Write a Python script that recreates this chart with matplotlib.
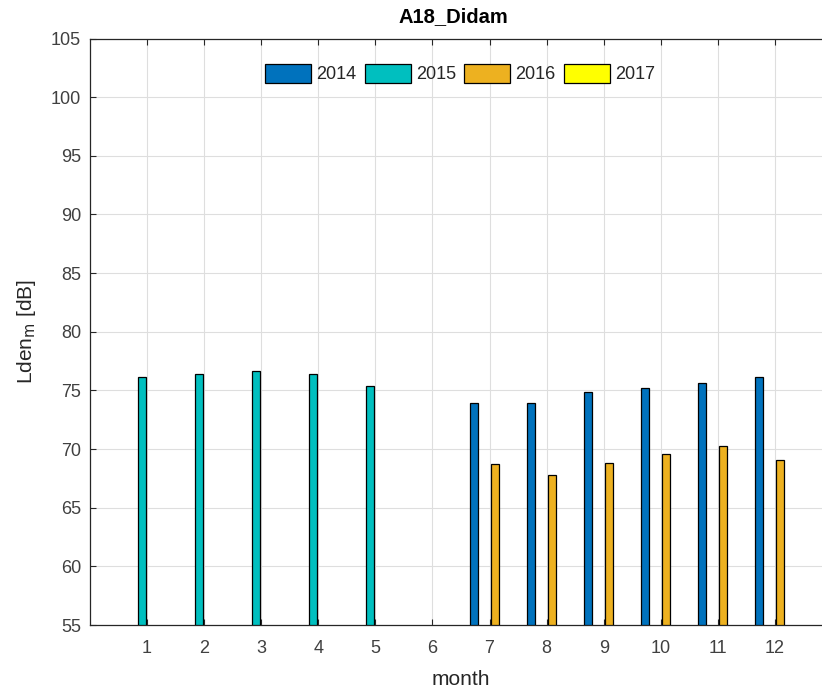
"""
Monthly Lden bars for A18_Didam, grouped per year
"""

import matplotlib.pyplot as plt
import numpy as np

plt.rcParams["font.family"] = ["Liberation Sans", "DejaVu Sans"]

months = list(range(1, 13))
years = ["2014", "2015", "2016", "2017"]
nan = np.nan
lden_2014 = [nan, nan, nan, nan, nan, nan, 73.9, 73.9, 74.85, 75.2, 75.6, 76.1]
lden_2015 = [76.15, 76.4, 76.65, 76.4, 75.35, nan, nan, nan, nan, nan, nan, nan]
lden_2016 = [nan, nan, nan, nan, nan, nan, 68.7, 67.8, 68.85, 69.6, 70.25, 69.1]
lden_2017 = [nan] * 12
colors = ["#0072BD", "#00BFBF", "#EDB120", "#FFFF00"]


def main():
    """
    Driver code
    """
    fig = plt.figure(figsize=(8.22, 6.88), dpi=100)
    ax = fig.add_axes([90 / 822, 63 / 688, 742 / 822, 586.5 / 688])

    series = [lden_2014, lden_2015, lden_2016, lden_2017]
    x = np.array(months, dtype=float)
    step = 0.182
    offsets = (np.arange(len(series)) - 1.5) * step
    for vals, year, col, off in zip(series, years, colors, offsets):
        v = np.array(vals, dtype=float)
        ax.bar(
            x + off,
            v - 55,
            bottom=55,
            width=step * 0.8,
            color=col,
            edgecolor="black",
            linewidth=0.9,
            label=year,
            zorder=3,
        )

    ax.set_xlim(0, 13)
    ax.set_ylim(55, 105)
    ax.set_xticks(months)
    ax.set_yticks(np.arange(55, 106, 5))
    ax.grid(True, color="#dedede", linewidth=0.8, zorder=0)
    ax.tick_params(
        direction="in", top=True, right=True, length=4, colors="#262626",
        labelcolor="#404040", labelsize=13,
    )
    ax.tick_params(axis="x", pad=11)
    ax.tick_params(axis="y", pad=6.5)
    for s in ax.spines.values():
        s.set_color("#262626")
        s.set_linewidth(0.9)

    ax.set_xlabel("month", fontsize=15, color="#262626", labelpad=9)
    ax.set_ylabel(r"Lden$_{\mathrm{m}}$ [dB]", fontsize=15, color="#262626", labelpad=9)
    fig.text(453 / 822, 1 - 17 / 688, "A18_Didam", ha="center", va="center",
             fontsize=14.5, fontweight="bold", color="black")

    ax.legend(
        loc="center",
        bbox_to_anchor=(370 / 742, 1 - 35 / 586.5),
        ncol=4,
        frameon=False,
        fontsize=13,
        labelcolor="#262626",
        handlelength=2.55,
        handleheight=1.25,
        handletextpad=0.28,
        columnspacing=0.45,
        borderpad=0.2,
    )

    fig.savefig("out.png", dpi=100)


if __name__ == "__main__":
    main()
